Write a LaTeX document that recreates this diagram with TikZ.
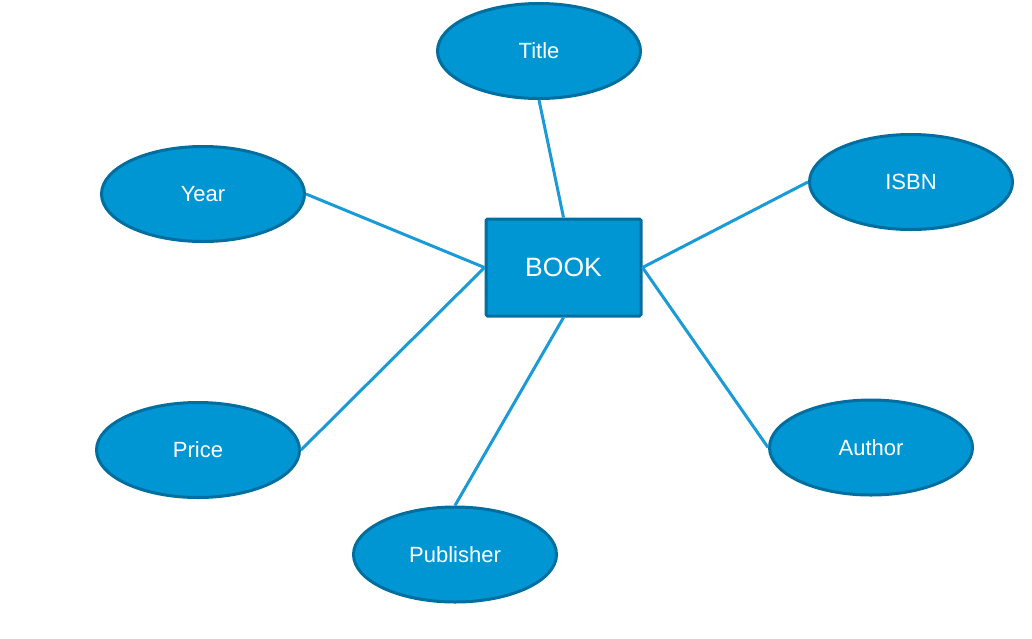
\documentclass[tikz,border=0pt]{standalone}
\usepackage{fontspec}
\setmainfont{Liberation Sans}
\usetikzlibrary{shapes.geometric}
\definecolor{fillblue}{HTML}{0096D3}
\definecolor{edgeblue}{HTML}{006E9E}
\definecolor{linkblue}{HTML}{1A9AD6}
\tikzset{
  attr/.style={ellipse, draw=edgeblue, fill=fillblue, line width=3pt, minimum width=203pt, minimum height=95pt, text=white, font=\fontsize{22}{26}\selectfont, inner sep=0pt},
  entity/.style={rectangle, rounded corners=1.5pt, draw=edgeblue, fill=fillblue, line width=3pt, minimum width=155pt, minimum height=97pt, text=white, font=\fontsize{26.5}{30}\selectfont, inner sep=0pt},
  link/.style={draw=linkblue, line width=3pt}
}
\begin{document}
\begin{tikzpicture}[x=1pt,y=-1pt]
\useasboundingbox (0,0) rectangle (1032,638);
\node[entity] (book) at (563.5,267.5) {BOOK};
\node[attr] (title) at (539,51) {Title};
\node[attr] (year) at (203,194) {Year};
\node[attr] (isbn) at (911,182) {ISBN};
\node[attr] (price) at (198,450) {Price};
\node[attr] (publisher) at (455,554.5) {Publisher};
\node[attr] (author) at (871,447.5) {Author};
\draw[link] (title.south) -- (book.north);
\draw[link] (year.east) -- (book.west);
\draw[link] (isbn.west) -- (book.east);
\draw[link] (price.east) -- (book.west);
\draw[link] (publisher.north) -- (book.south);
\draw[link] (author.west) -- (book.east);
\end{tikzpicture}
\end{document}
